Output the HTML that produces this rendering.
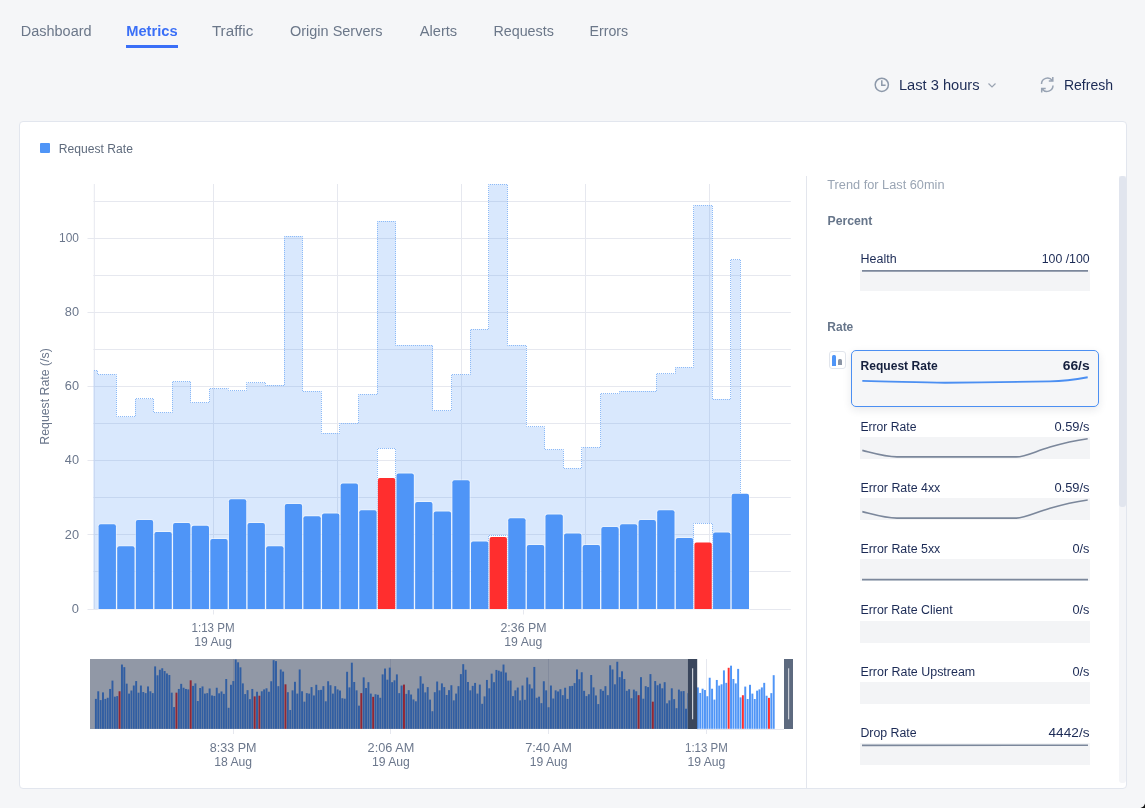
<!DOCTYPE html>
<html><head><meta charset="utf-8"><style>
*{margin:0;padding:0;box-sizing:border-box}
html,body{width:1145px;height:808px;overflow:hidden;background:#f5f6f8;font-family:"Liberation Sans", sans-serif;}
.uline{position:absolute;left:126.2px;top:45.3px;width:51.4px;height:2.5px;background:#3a6ff7}
.card{position:absolute;left:19px;top:121px;width:1108px;height:668px;background:#fff;border:1px solid #e2e6ee;border-radius:4px}
svg{position:absolute;left:0;top:0;font-family:"Liberation Sans", sans-serif;will-change:transform}
.gbox{position:absolute;left:860px;width:230px;height:22px;background:#f3f4f6}
.L{position:absolute;left:0;top:0;width:1145px;height:808px}
</style></head><body>
<div class="uline"></div>
<svg width="1145" height="808" style="z-index:1">
<text x="20.8" y="36.05" font-size="14" fill="#6b7789" font-weight="normal" textLength="70.8" lengthAdjust="spacingAndGlyphs">Dashboard</text>
<text x="126.2" y="36.05" font-size="14" fill="#3a6ff7" font-weight="bold" textLength="51.4" lengthAdjust="spacingAndGlyphs">Metrics</text>
<text x="211.9" y="36.05" font-size="14" fill="#6b7789" font-weight="normal" textLength="41.4" lengthAdjust="spacingAndGlyphs">Traffic</text>
<text x="290" y="36.05" font-size="14" fill="#6b7789" font-weight="normal" textLength="92.5" lengthAdjust="spacingAndGlyphs">Origin Servers</text>
<text x="419.7" y="36.05" font-size="14" fill="#6b7789" font-weight="normal" textLength="37.5" lengthAdjust="spacingAndGlyphs">Alerts</text>
<text x="493.4" y="36.05" font-size="14" fill="#6b7789" font-weight="normal" textLength="60.5" lengthAdjust="spacingAndGlyphs">Requests</text>
<text x="589.5" y="36.05" font-size="14" fill="#6b7789" font-weight="normal" textLength="38.7" lengthAdjust="spacingAndGlyphs">Errors</text>
<text x="898.9" y="90.1" font-size="14" fill="#1c2b55" font-weight="normal" textLength="80.7" lengthAdjust="spacingAndGlyphs">Last 3 hours</text>
<text x="1063.9" y="89.9" font-size="14" fill="#1c2b55" font-weight="normal" textLength="49.2" lengthAdjust="spacingAndGlyphs">Refresh</text>
<circle cx="881.8" cy="84.8" r="6.6" fill="none" stroke="#8d99aa" stroke-width="1.5"/>
<path d="M881.8,80.2 L881.8,85.3 L885.6,85.3" fill="none" stroke="#8d99aa" stroke-width="1.5"/>
<path d="M988.5,83.5 L992,87 L995.5,83.5" fill="none" stroke="#9aa4b2" stroke-width="1.2"/>
<path d="M1041.5,84 A6,6 0 0 1 1052.3,80.5 M1052.8,77 L1052.8,81 L1048.8,81 M1053,85.5 A6,6 0 0 1 1042.2,89 M1041.7,92.5 L1041.7,88.5 L1045.7,88.5" fill="none" stroke="#98a3b3" stroke-width="1.5"/>
</svg>
<div class="card"></div>
<svg width="1145" height="808" style="z-index:2">
<defs><pattern id="dots" width="2" height="2" patternUnits="userSpaceOnUse"><rect x="0" y="0" width="1" height="1" fill="#8cbaf7"/><rect x="1" y="1" width="1" height="1" fill="#8cbaf7"/></pattern></defs>
<line x1="806.5" y1="176" x2="806.5" y2="788" stroke="#e3e6ed" stroke-width="1"/>
<line x1="87.5" y1="609.5" x2="790.8" y2="609.5" stroke="#e6e8ef" stroke-width="1"/>
<line x1="93.4" y1="571.5" x2="790.8" y2="571.5" stroke="#e6e8ef" stroke-width="1"/>
<line x1="87.5" y1="534.5" x2="790.8" y2="534.5" stroke="#e6e8ef" stroke-width="1"/>
<line x1="93.4" y1="497.5" x2="790.8" y2="497.5" stroke="#e6e8ef" stroke-width="1"/>
<line x1="87.5" y1="460.5" x2="790.8" y2="460.5" stroke="#e6e8ef" stroke-width="1"/>
<line x1="93.4" y1="423.5" x2="790.8" y2="423.5" stroke="#e6e8ef" stroke-width="1"/>
<line x1="87.5" y1="386.5" x2="790.8" y2="386.5" stroke="#e6e8ef" stroke-width="1"/>
<line x1="93.4" y1="349.5" x2="790.8" y2="349.5" stroke="#e6e8ef" stroke-width="1"/>
<line x1="87.5" y1="312.5" x2="790.8" y2="312.5" stroke="#e6e8ef" stroke-width="1"/>
<line x1="93.4" y1="275.5" x2="790.8" y2="275.5" stroke="#e6e8ef" stroke-width="1"/>
<line x1="87.5" y1="238.5" x2="790.8" y2="238.5" stroke="#e6e8ef" stroke-width="1"/>
<line x1="93.4" y1="201.5" x2="790.8" y2="201.5" stroke="#e6e8ef" stroke-width="1"/>
<line x1="94.3" y1="184" x2="94.3" y2="609" stroke="#e6e8ef" stroke-width="1"/>
<line x1="213.5" y1="184" x2="213.5" y2="609" stroke="#e6e8ef" stroke-width="1"/>
<line x1="337.5" y1="184" x2="337.5" y2="609" stroke="#e6e8ef" stroke-width="1"/>
<line x1="461.5" y1="184" x2="461.5" y2="609" stroke="#e6e8ef" stroke-width="1"/>
<line x1="585.5" y1="184" x2="585.5" y2="609" stroke="#e6e8ef" stroke-width="1"/>
<line x1="709.5" y1="184" x2="709.5" y2="609" stroke="#e6e8ef" stroke-width="1"/>
<line x1="213.5" y1="609" x2="213.5" y2="614.5" stroke="#e6e8ef" stroke-width="1"/>
<line x1="523.5" y1="609" x2="523.5" y2="614.5" stroke="#e6e8ef" stroke-width="1"/>
<path d="M93.4,609 L93.4,370.5 L97.8,370.5 L97.8,374.3 L116.42,374.3 L116.42,416.8 L135.04,416.8 L135.04,398.9 L153.66,398.9 L153.66,412.6 L172.28,412.6 L172.28,381.4 L190.9,381.4 L190.9,402.5 L209.52,402.5 L209.52,388.6 L228.14,388.6 L228.14,390.7 L246.76,390.7 L246.76,382.7 L265.38,382.7 L265.38,385 L284,385 L284,236.1 L302.62,236.1 L302.62,391.2 L321.24,391.2 L321.24,433.1 L339.86,433.1 L339.86,423.2 L358.48,423.2 L358.48,394.2 L377.1,394.2 L377.1,221 L395.72,221 L395.72,345.1 L414.34,345.1 L414.34,345.1 L432.96,345.1 L432.96,410.4 L451.58,410.4 L451.58,374.6 L470.2,374.6 L470.2,329.3 L488.82,329.3 L488.82,184.2 L507.44,184.2 L507.44,345.1 L526.06,345.1 L526.06,426.8 L544.68,426.8 L544.68,449.5 L563.3,449.5 L563.3,468.2 L581.92,468.2 L581.92,447.2 L600.54,447.2 L600.54,393.7 L619.16,393.7 L619.16,391 L637.78,391 L637.78,391 L656.4,391 L656.4,373.8 L675.02,373.8 L675.02,367.2 L693.64,367.2 L693.64,205.2 L712.26,205.2 L712.26,399 L730.88,399 L730.88,259.7 L740.3,259.7 L740.3,609 Z M377.1,448.6 L395.72,448.6 L395.72,480.9 L377.1,480.9 Z M488.82,535.3 L507.44,535.3 L507.44,539.9 L488.82,539.9 Z M693.64,523.2 L712.26,523.2 L712.26,545.5 L693.64,545.5 Z" fill="rgba(77,148,246,0.21)" fill-rule="evenodd" stroke="none"/>
<path d="M93.5,370.5 L97.5,370.5 L97.5,374.5 L116.5,374.5 L116.5,416.5 L135.5,416.5 L135.5,398.5 L153.5,398.5 L153.5,412.5 L172.5,412.5 L172.5,381.5 L190.5,381.5 L190.5,402.5 L209.5,402.5 L209.5,388.5 L228.5,388.5 L228.5,390.5 L246.5,390.5 L246.5,382.5 L265.5,382.5 L265.5,385.5 L284.5,385.5 L284.5,236.5 L302.5,236.5 L302.5,391.5 L321.5,391.5 L321.5,433.5 L339.5,433.5 L339.5,423.5 L358.5,423.5 L358.5,394.5 L377.5,394.5 L377.5,221.5 L395.5,221.5 L395.5,345.5 L414.5,345.5 L414.5,345.5 L432.5,345.5 L432.5,410.5 L451.5,410.5 L451.5,374.5 L470.5,374.5 L470.5,329.5 L488.5,329.5 L488.5,184.5 L507.5,184.5 L507.5,345.5 L526.5,345.5 L526.5,426.5 L544.5,426.5 L544.5,449.5 L563.5,449.5 L563.5,468.5 L581.5,468.5 L581.5,447.5 L600.5,447.5 L600.5,393.5 L619.5,393.5 L619.5,391.5 L637.5,391.5 L637.5,391.5 L656.5,391.5 L656.5,373.5 L675.5,373.5 L675.5,367.5 L693.5,367.5 L693.5,205.5 L712.5,205.5 L712.5,399.5 L730.5,399.5 L730.5,259.5 L740.5,259.5 L740.5,609.5" fill="none" stroke="url(#dots)" stroke-width="1"/>
<path d="M377.5,609 L377.5,448.5 L395.5,448.5 L395.5,609" fill="none" stroke="url(#dots)" stroke-width="1"/>
<path d="M488.5,609 L488.5,535.5 L507.5,535.5 L507.5,609" fill="none" stroke="url(#dots)" stroke-width="1"/>
<path d="M693.5,609 L693.5,523.5 L712.5,523.5 L712.5,609" fill="none" stroke="url(#dots)" stroke-width="1"/>
<path d="M98.6,609 L98.6,526.3 Q98.6,524.3 100.6,524.3 L113.92,524.3 Q115.92,524.3 115.92,526.3 L115.92,609 Z" fill="none" stroke="rgba(255,255,255,0.45)" stroke-width="1.8"/>
<path d="M98.6,609 L98.6,526.3 Q98.6,524.3 100.6,524.3 L113.92,524.3 Q115.92,524.3 115.92,526.3 L115.92,609 Z" fill="#4f95f7"/>
<path d="M117.22,609 L117.22,548.3 Q117.22,546.3 119.22,546.3 L132.54,546.3 Q134.54,546.3 134.54,548.3 L134.54,609 Z" fill="none" stroke="rgba(255,255,255,0.45)" stroke-width="1.8"/>
<path d="M117.22,609 L117.22,548.3 Q117.22,546.3 119.22,546.3 L132.54,546.3 Q134.54,546.3 134.54,548.3 L134.54,609 Z" fill="#4f95f7"/>
<path d="M135.84,609 L135.84,522.1 Q135.84,520.1 137.84,520.1 L151.16,520.1 Q153.16,520.1 153.16,522.1 L153.16,609 Z" fill="none" stroke="rgba(255,255,255,0.45)" stroke-width="1.8"/>
<path d="M135.84,609 L135.84,522.1 Q135.84,520.1 137.84,520.1 L151.16,520.1 Q153.16,520.1 153.16,522.1 L153.16,609 Z" fill="#4f95f7"/>
<path d="M154.46,609 L154.46,534 Q154.46,532 156.46,532 L169.78,532 Q171.78,532 171.78,534 L171.78,609 Z" fill="none" stroke="rgba(255,255,255,0.45)" stroke-width="1.8"/>
<path d="M154.46,609 L154.46,534 Q154.46,532 156.46,532 L169.78,532 Q171.78,532 171.78,534 L171.78,609 Z" fill="#4f95f7"/>
<path d="M173.08,609 L173.08,524.9 Q173.08,522.9 175.08,522.9 L188.4,522.9 Q190.4,522.9 190.4,524.9 L190.4,609 Z" fill="none" stroke="rgba(255,255,255,0.45)" stroke-width="1.8"/>
<path d="M173.08,609 L173.08,524.9 Q173.08,522.9 175.08,522.9 L188.4,522.9 Q190.4,522.9 190.4,524.9 L190.4,609 Z" fill="#4f95f7"/>
<path d="M191.7,609 L191.7,527.7 Q191.7,525.7 193.7,525.7 L207.02,525.7 Q209.02,525.7 209.02,527.7 L209.02,609 Z" fill="none" stroke="rgba(255,255,255,0.45)" stroke-width="1.8"/>
<path d="M191.7,609 L191.7,527.7 Q191.7,525.7 193.7,525.7 L207.02,525.7 Q209.02,525.7 209.02,527.7 L209.02,609 Z" fill="#4f95f7"/>
<path d="M210.32,609 L210.32,541 Q210.32,539 212.32,539 L225.64,539 Q227.64,539 227.64,541 L227.64,609 Z" fill="none" stroke="rgba(255,255,255,0.45)" stroke-width="1.8"/>
<path d="M210.32,609 L210.32,541 Q210.32,539 212.32,539 L225.64,539 Q227.64,539 227.64,541 L227.64,609 Z" fill="#4f95f7"/>
<path d="M228.94,609 L228.94,501.3 Q228.94,499.3 230.94,499.3 L244.26,499.3 Q246.26,499.3 246.26,501.3 L246.26,609 Z" fill="none" stroke="rgba(255,255,255,0.45)" stroke-width="1.8"/>
<path d="M228.94,609 L228.94,501.3 Q228.94,499.3 230.94,499.3 L244.26,499.3 Q246.26,499.3 246.26,501.3 L246.26,609 Z" fill="#4f95f7"/>
<path d="M247.56,609 L247.56,524.9 Q247.56,522.9 249.56,522.9 L262.88,522.9 Q264.88,522.9 264.88,524.9 L264.88,609 Z" fill="none" stroke="rgba(255,255,255,0.45)" stroke-width="1.8"/>
<path d="M247.56,609 L247.56,524.9 Q247.56,522.9 249.56,522.9 L262.88,522.9 Q264.88,522.9 264.88,524.9 L264.88,609 Z" fill="#4f95f7"/>
<path d="M266.18,609 L266.18,548.3 Q266.18,546.3 268.18,546.3 L281.5,546.3 Q283.5,546.3 283.5,548.3 L283.5,609 Z" fill="none" stroke="rgba(255,255,255,0.45)" stroke-width="1.8"/>
<path d="M266.18,609 L266.18,548.3 Q266.18,546.3 268.18,546.3 L281.5,546.3 Q283.5,546.3 283.5,548.3 L283.5,609 Z" fill="#4f95f7"/>
<path d="M284.8,609 L284.8,506.1 Q284.8,504.1 286.8,504.1 L300.12,504.1 Q302.12,504.1 302.12,506.1 L302.12,609 Z" fill="none" stroke="rgba(255,255,255,0.45)" stroke-width="1.8"/>
<path d="M284.8,609 L284.8,506.1 Q284.8,504.1 286.8,504.1 L300.12,504.1 Q302.12,504.1 302.12,506.1 L302.12,609 Z" fill="#4f95f7"/>
<path d="M303.42,609 L303.42,518.2 Q303.42,516.2 305.42,516.2 L318.74,516.2 Q320.74,516.2 320.74,518.2 L320.74,609 Z" fill="none" stroke="rgba(255,255,255,0.45)" stroke-width="1.8"/>
<path d="M303.42,609 L303.42,518.2 Q303.42,516.2 305.42,516.2 L318.74,516.2 Q320.74,516.2 320.74,518.2 L320.74,609 Z" fill="#4f95f7"/>
<path d="M322.04,609 L322.04,515.4 Q322.04,513.4 324.04,513.4 L337.36,513.4 Q339.36,513.4 339.36,515.4 L339.36,609 Z" fill="none" stroke="rgba(255,255,255,0.45)" stroke-width="1.8"/>
<path d="M322.04,609 L322.04,515.4 Q322.04,513.4 324.04,513.4 L337.36,513.4 Q339.36,513.4 339.36,515.4 L339.36,609 Z" fill="#4f95f7"/>
<path d="M340.66,609 L340.66,485.5 Q340.66,483.5 342.66,483.5 L355.98,483.5 Q357.98,483.5 357.98,485.5 L357.98,609 Z" fill="none" stroke="rgba(255,255,255,0.45)" stroke-width="1.8"/>
<path d="M340.66,609 L340.66,485.5 Q340.66,483.5 342.66,483.5 L355.98,483.5 Q357.98,483.5 357.98,485.5 L357.98,609 Z" fill="#4f95f7"/>
<path d="M359.28,609 L359.28,512.3 Q359.28,510.3 361.28,510.3 L374.6,510.3 Q376.6,510.3 376.6,512.3 L376.6,609 Z" fill="none" stroke="rgba(255,255,255,0.45)" stroke-width="1.8"/>
<path d="M359.28,609 L359.28,512.3 Q359.28,510.3 361.28,510.3 L374.6,510.3 Q376.6,510.3 376.6,512.3 L376.6,609 Z" fill="#4f95f7"/>
<path d="M377.9,609 L377.9,479.9 Q377.9,477.9 379.9,477.9 L393.22,477.9 Q395.22,477.9 395.22,479.9 L395.22,609 Z" fill="none" stroke="rgba(255,255,255,0.45)" stroke-width="1.8"/>
<path d="M377.9,609 L377.9,479.9 Q377.9,477.9 379.9,477.9 L393.22,477.9 Q395.22,477.9 395.22,479.9 L395.22,609 Z" fill="#ff2e2e"/>
<path d="M396.52,609 L396.52,475.4 Q396.52,473.4 398.52,473.4 L411.84,473.4 Q413.84,473.4 413.84,475.4 L413.84,609 Z" fill="none" stroke="rgba(255,255,255,0.45)" stroke-width="1.8"/>
<path d="M396.52,609 L396.52,475.4 Q396.52,473.4 398.52,473.4 L411.84,473.4 Q413.84,473.4 413.84,475.4 L413.84,609 Z" fill="#4f95f7"/>
<path d="M415.14,609 L415.14,504 Q415.14,502 417.14,502 L430.46,502 Q432.46,502 432.46,504 L432.46,609 Z" fill="none" stroke="rgba(255,255,255,0.45)" stroke-width="1.8"/>
<path d="M415.14,609 L415.14,504 Q415.14,502 417.14,502 L430.46,502 Q432.46,502 432.46,504 L432.46,609 Z" fill="#4f95f7"/>
<path d="M433.76,609 L433.76,513.5 Q433.76,511.5 435.76,511.5 L449.08,511.5 Q451.08,511.5 451.08,513.5 L451.08,609 Z" fill="none" stroke="rgba(255,255,255,0.45)" stroke-width="1.8"/>
<path d="M433.76,609 L433.76,513.5 Q433.76,511.5 435.76,511.5 L449.08,511.5 Q451.08,511.5 451.08,513.5 L451.08,609 Z" fill="#4f95f7"/>
<path d="M452.38,609 L452.38,482.3 Q452.38,480.3 454.38,480.3 L467.7,480.3 Q469.7,480.3 469.7,482.3 L469.7,609 Z" fill="none" stroke="rgba(255,255,255,0.45)" stroke-width="1.8"/>
<path d="M452.38,609 L452.38,482.3 Q452.38,480.3 454.38,480.3 L467.7,480.3 Q469.7,480.3 469.7,482.3 L469.7,609 Z" fill="#4f95f7"/>
<path d="M471,609 L471,543.5 Q471,541.5 473,541.5 L486.32,541.5 Q488.32,541.5 488.32,543.5 L488.32,609 Z" fill="none" stroke="rgba(255,255,255,0.45)" stroke-width="1.8"/>
<path d="M471,609 L471,543.5 Q471,541.5 473,541.5 L486.32,541.5 Q488.32,541.5 488.32,543.5 L488.32,609 Z" fill="#4f95f7"/>
<path d="M489.62,609 L489.62,538.9 Q489.62,536.9 491.62,536.9 L504.94,536.9 Q506.94,536.9 506.94,538.9 L506.94,609 Z" fill="none" stroke="rgba(255,255,255,0.45)" stroke-width="1.8"/>
<path d="M489.62,609 L489.62,538.9 Q489.62,536.9 491.62,536.9 L504.94,536.9 Q506.94,536.9 506.94,538.9 L506.94,609 Z" fill="#ff2e2e"/>
<path d="M508.24,609 L508.24,520.3 Q508.24,518.3 510.24,518.3 L523.56,518.3 Q525.56,518.3 525.56,520.3 L525.56,609 Z" fill="none" stroke="rgba(255,255,255,0.45)" stroke-width="1.8"/>
<path d="M508.24,609 L508.24,520.3 Q508.24,518.3 510.24,518.3 L523.56,518.3 Q525.56,518.3 525.56,520.3 L525.56,609 Z" fill="#4f95f7"/>
<path d="M526.86,609 L526.86,547 Q526.86,545 528.86,545 L542.18,545 Q544.18,545 544.18,547 L544.18,609 Z" fill="none" stroke="rgba(255,255,255,0.45)" stroke-width="1.8"/>
<path d="M526.86,609 L526.86,547 Q526.86,545 528.86,545 L542.18,545 Q544.18,545 544.18,547 L544.18,609 Z" fill="#4f95f7"/>
<path d="M545.48,609 L545.48,516.5 Q545.48,514.5 547.48,514.5 L560.8,514.5 Q562.8,514.5 562.8,516.5 L562.8,609 Z" fill="none" stroke="rgba(255,255,255,0.45)" stroke-width="1.8"/>
<path d="M545.48,609 L545.48,516.5 Q545.48,514.5 547.48,514.5 L560.8,514.5 Q562.8,514.5 562.8,516.5 L562.8,609 Z" fill="#4f95f7"/>
<path d="M564.1,609 L564.1,535.4 Q564.1,533.4 566.1,533.4 L579.42,533.4 Q581.42,533.4 581.42,535.4 L581.42,609 Z" fill="none" stroke="rgba(255,255,255,0.45)" stroke-width="1.8"/>
<path d="M564.1,609 L564.1,535.4 Q564.1,533.4 566.1,533.4 L579.42,533.4 Q581.42,533.4 581.42,535.4 L581.42,609 Z" fill="#4f95f7"/>
<path d="M582.72,609 L582.72,547 Q582.72,545 584.72,545 L598.04,545 Q600.04,545 600.04,547 L600.04,609 Z" fill="none" stroke="rgba(255,255,255,0.45)" stroke-width="1.8"/>
<path d="M582.72,609 L582.72,547 Q582.72,545 584.72,545 L598.04,545 Q600.04,545 600.04,547 L600.04,609 Z" fill="#4f95f7"/>
<path d="M601.34,609 L601.34,529.1 Q601.34,527.1 603.34,527.1 L616.66,527.1 Q618.66,527.1 618.66,529.1 L618.66,609 Z" fill="none" stroke="rgba(255,255,255,0.45)" stroke-width="1.8"/>
<path d="M601.34,609 L601.34,529.1 Q601.34,527.1 603.34,527.1 L616.66,527.1 Q618.66,527.1 618.66,529.1 L618.66,609 Z" fill="#4f95f7"/>
<path d="M619.96,609 L619.96,526.3 Q619.96,524.3 621.96,524.3 L635.28,524.3 Q637.28,524.3 637.28,526.3 L637.28,609 Z" fill="none" stroke="rgba(255,255,255,0.45)" stroke-width="1.8"/>
<path d="M619.96,609 L619.96,526.3 Q619.96,524.3 621.96,524.3 L635.28,524.3 Q637.28,524.3 637.28,526.3 L637.28,609 Z" fill="#4f95f7"/>
<path d="M638.58,609 L638.58,522.1 Q638.58,520.1 640.58,520.1 L653.9,520.1 Q655.9,520.1 655.9,522.1 L655.9,609 Z" fill="none" stroke="rgba(255,255,255,0.45)" stroke-width="1.8"/>
<path d="M638.58,609 L638.58,522.1 Q638.58,520.1 640.58,520.1 L653.9,520.1 Q655.9,520.1 655.9,522.1 L655.9,609 Z" fill="#4f95f7"/>
<path d="M657.2,609 L657.2,512.3 Q657.2,510.3 659.2,510.3 L672.52,510.3 Q674.52,510.3 674.52,512.3 L674.52,609 Z" fill="none" stroke="rgba(255,255,255,0.45)" stroke-width="1.8"/>
<path d="M657.2,609 L657.2,512.3 Q657.2,510.3 659.2,510.3 L672.52,510.3 Q674.52,510.3 674.52,512.3 L674.52,609 Z" fill="#4f95f7"/>
<path d="M675.82,609 L675.82,540 Q675.82,538 677.82,538 L691.14,538 Q693.14,538 693.14,540 L693.14,609 Z" fill="none" stroke="rgba(255,255,255,0.45)" stroke-width="1.8"/>
<path d="M675.82,609 L675.82,540 Q675.82,538 677.82,538 L691.14,538 Q693.14,538 693.14,540 L693.14,609 Z" fill="#4f95f7"/>
<path d="M694.44,609 L694.44,544.5 Q694.44,542.5 696.44,542.5 L709.76,542.5 Q711.76,542.5 711.76,544.5 L711.76,609 Z" fill="none" stroke="rgba(255,255,255,0.45)" stroke-width="1.8"/>
<path d="M694.44,609 L694.44,544.5 Q694.44,542.5 696.44,542.5 L709.76,542.5 Q711.76,542.5 711.76,544.5 L711.76,609 Z" fill="#ff2e2e"/>
<path d="M713.06,609 L713.06,534.4 Q713.06,532.4 715.06,532.4 L728.38,532.4 Q730.38,532.4 730.38,534.4 L730.38,609 Z" fill="none" stroke="rgba(255,255,255,0.45)" stroke-width="1.8"/>
<path d="M713.06,609 L713.06,534.4 Q713.06,532.4 715.06,532.4 L728.38,532.4 Q730.38,532.4 730.38,534.4 L730.38,609 Z" fill="#4f95f7"/>
<path d="M731.68,609 L731.68,495.8 Q731.68,493.8 733.68,493.8 L747,493.8 Q749,493.8 749,495.8 L749,609 Z" fill="none" stroke="rgba(255,255,255,0.45)" stroke-width="1.8"/>
<path d="M731.68,609 L731.68,495.8 Q731.68,493.8 733.68,493.8 L747,493.8 Q749,493.8 749,495.8 L749,609 Z" fill="#4f95f7"/>
<text x="71.8" y="612.7" text-anchor="start" font-size="12" fill="#6b778c" font-weight="normal" textLength="7.2" lengthAdjust="spacingAndGlyphs" >0</text>
<text x="64.8" y="538.54" text-anchor="start" font-size="12" fill="#6b778c" font-weight="normal" textLength="14.2" lengthAdjust="spacingAndGlyphs" >20</text>
<text x="64.8" y="464.38" text-anchor="start" font-size="12" fill="#6b778c" font-weight="normal" textLength="14.2" lengthAdjust="spacingAndGlyphs" >40</text>
<text x="64.8" y="390.22" text-anchor="start" font-size="12" fill="#6b778c" font-weight="normal" textLength="14.2" lengthAdjust="spacingAndGlyphs" >60</text>
<text x="64.8" y="316.06" text-anchor="start" font-size="12" fill="#6b778c" font-weight="normal" textLength="14.2" lengthAdjust="spacingAndGlyphs" >80</text>
<text x="59.1" y="241.9" text-anchor="start" font-size="12" fill="#6b778c" font-weight="normal" textLength="19.9" lengthAdjust="spacingAndGlyphs" >100</text>
<text x="48.6" y="444.7" text-anchor="start" font-size="12" fill="#6b778c" font-weight="normal" textLength="96.5" lengthAdjust="spacingAndGlyphs" transform="rotate(-90 48.6 444.7)">Request Rate (/s)</text>
<text x="191.5" y="631.9" text-anchor="start" font-size="12" fill="#6b778c" font-weight="normal" textLength="43.1" lengthAdjust="spacingAndGlyphs" >1:13 PM</text>
<text x="194.2" y="645.9" text-anchor="start" font-size="12" fill="#6b778c" font-weight="normal" textLength="37.8" lengthAdjust="spacingAndGlyphs" >19 Aug</text>
<text x="500.5" y="631.9" text-anchor="start" font-size="12" fill="#6b778c" font-weight="normal" textLength="46" lengthAdjust="spacingAndGlyphs" >2:36 PM</text>
<text x="504.3" y="645.9" text-anchor="start" font-size="12" fill="#6b778c" font-weight="normal" textLength="38.1" lengthAdjust="spacingAndGlyphs" >19 Aug</text>
<rect x="90" y="659" width="703" height="70" fill="#fff"/>
<line x1="233.5" y1="659" x2="233.5" y2="729" stroke="#e6e8ef" stroke-width="1"/>
<line x1="390.5" y1="659" x2="390.5" y2="729" stroke="#e6e8ef" stroke-width="1"/>
<line x1="548.5" y1="659" x2="548.5" y2="729" stroke="#e6e8ef" stroke-width="1"/>
<line x1="706.5" y1="659" x2="706.5" y2="729" stroke="#e6e8ef" stroke-width="1"/>
<rect x="94.9" y="698.88" width="1.95" height="29.92" fill="#4f95f7"/>
<rect x="97.27" y="691.27" width="1.95" height="37.53" fill="#4f95f7"/>
<rect x="99.64" y="700.08" width="1.95" height="28.72" fill="#4f95f7"/>
<rect x="102.01" y="692.38" width="1.95" height="36.42" fill="#4f95f7"/>
<rect x="104.38" y="698.88" width="1.95" height="29.92" fill="#4f95f7"/>
<rect x="106.75" y="697.76" width="1.95" height="31.04" fill="#4f95f7"/>
<rect x="109.12" y="688.95" width="1.95" height="39.85" fill="#4f95f7"/>
<rect x="111.49" y="680.59" width="1.95" height="48.21" fill="#4f95f7"/>
<rect x="113.86" y="696.65" width="1.95" height="32.15" fill="#4f95f7"/>
<rect x="116.23" y="696.09" width="1.95" height="32.71" fill="#4f95f7"/>
<rect x="118.6" y="691.27" width="1.95" height="37.53" fill="#ff2e2e"/>
<rect x="120.97" y="664.54" width="1.95" height="64.26" fill="#4f95f7"/>
<rect x="123.34" y="667.14" width="1.95" height="61.66" fill="#4f95f7"/>
<rect x="125.71" y="683.66" width="1.95" height="45.14" fill="#4f95f7"/>
<rect x="128.08" y="693.59" width="1.95" height="35.21" fill="#4f95f7"/>
<rect x="130.45" y="690.52" width="1.95" height="38.28" fill="#4f95f7"/>
<rect x="132.82" y="685.51" width="1.95" height="43.29" fill="#4f95f7"/>
<rect x="135.19" y="681.06" width="1.95" height="47.74" fill="#4f95f7"/>
<rect x="137.56" y="692.66" width="1.95" height="36.14" fill="#4f95f7"/>
<rect x="139.93" y="685.51" width="1.95" height="43.29" fill="#4f95f7"/>
<rect x="142.3" y="692.01" width="1.95" height="36.79" fill="#4f95f7"/>
<rect x="144.67" y="693.12" width="1.95" height="35.68" fill="#4f95f7"/>
<rect x="147.04" y="686.44" width="1.95" height="42.36" fill="#4f95f7"/>
<rect x="149.41" y="691.27" width="1.95" height="37.53" fill="#4f95f7"/>
<rect x="151.78" y="693.12" width="1.95" height="35.68" fill="#4f95f7"/>
<rect x="154.15" y="666.39" width="1.95" height="62.41" fill="#4f95f7"/>
<rect x="156.52" y="675.3" width="1.95" height="53.5" fill="#4f95f7"/>
<rect x="158.89" y="669.74" width="1.95" height="59.06" fill="#4f95f7"/>
<rect x="161.26" y="668.25" width="1.95" height="60.55" fill="#4f95f7"/>
<rect x="163.63" y="671.03" width="1.95" height="57.77" fill="#4f95f7"/>
<rect x="166" y="673.45" width="1.95" height="55.35" fill="#4f95f7"/>
<rect x="168.37" y="675.03" width="1.95" height="53.77" fill="#4f95f7"/>
<rect x="170.74" y="692.66" width="1.95" height="36.14" fill="#4f95f7"/>
<rect x="173.11" y="707.04" width="1.95" height="21.76" fill="#4f95f7"/>
<rect x="175.48" y="692.66" width="1.95" height="36.14" fill="#ff2e2e"/>
<rect x="177.85" y="688.95" width="1.95" height="39.85" fill="#4f95f7"/>
<rect x="180.22" y="683.84" width="1.95" height="44.96" fill="#4f95f7"/>
<rect x="182.59" y="687.74" width="1.95" height="41.06" fill="#4f95f7"/>
<rect x="184.96" y="688.95" width="1.95" height="39.85" fill="#4f95f7"/>
<rect x="187.33" y="689.41" width="1.95" height="39.39" fill="#4f95f7"/>
<rect x="189.7" y="680.32" width="1.95" height="48.48" fill="#ff2e2e"/>
<rect x="192.07" y="685.88" width="1.95" height="42.92" fill="#4f95f7"/>
<rect x="194.44" y="683.38" width="1.95" height="45.42" fill="#4f95f7"/>
<rect x="196.81" y="701.01" width="1.95" height="27.79" fill="#4f95f7"/>
<rect x="199.18" y="688.02" width="1.95" height="40.78" fill="#4f95f7"/>
<rect x="201.55" y="686.44" width="1.95" height="42.36" fill="#4f95f7"/>
<rect x="203.92" y="693.59" width="1.95" height="35.21" fill="#4f95f7"/>
<rect x="206.29" y="693.12" width="1.95" height="35.68" fill="#4f95f7"/>
<rect x="208.66" y="688.48" width="1.95" height="40.32" fill="#4f95f7"/>
<rect x="211.03" y="695.44" width="1.95" height="33.36" fill="#4f95f7"/>
<rect x="213.4" y="695.91" width="1.95" height="32.89" fill="#4f95f7"/>
<rect x="215.77" y="687.74" width="1.95" height="41.06" fill="#4f95f7"/>
<rect x="218.14" y="693.31" width="1.95" height="35.49" fill="#4f95f7"/>
<rect x="220.51" y="691.45" width="1.95" height="37.35" fill="#4f95f7"/>
<rect x="222.88" y="693.87" width="1.95" height="34.93" fill="#4f95f7"/>
<rect x="225.25" y="679.02" width="1.95" height="49.78" fill="#4f95f7"/>
<rect x="227.62" y="707.79" width="1.95" height="21.01" fill="#4f95f7"/>
<rect x="229.99" y="684.77" width="1.95" height="44.03" fill="#4f95f7"/>
<rect x="232.36" y="681.06" width="1.95" height="47.74" fill="#4f95f7"/>
<rect x="234.73" y="659.53" width="1.95" height="69.27" fill="#4f95f7"/>
<rect x="237.1" y="662.31" width="1.95" height="66.49" fill="#4f95f7"/>
<rect x="239.47" y="667.32" width="1.95" height="61.48" fill="#4f95f7"/>
<rect x="241.84" y="683.38" width="1.95" height="45.42" fill="#4f95f7"/>
<rect x="244.21" y="694.05" width="1.95" height="34.75" fill="#4f95f7"/>
<rect x="246.58" y="690.15" width="1.95" height="38.65" fill="#4f95f7"/>
<rect x="248.95" y="699.16" width="1.95" height="29.64" fill="#4f95f7"/>
<rect x="251.32" y="688.95" width="1.95" height="39.85" fill="#4f95f7"/>
<rect x="253.69" y="696.37" width="1.95" height="32.43" fill="#ff2e2e"/>
<rect x="256.06" y="691.73" width="1.95" height="37.07" fill="#4f95f7"/>
<rect x="258.43" y="695.72" width="1.95" height="33.08" fill="#ff2e2e"/>
<rect x="260.8" y="691.27" width="1.95" height="37.53" fill="#4f95f7"/>
<rect x="263.17" y="689.41" width="1.95" height="39.39" fill="#4f95f7"/>
<rect x="265.54" y="688.3" width="1.95" height="40.5" fill="#4f95f7"/>
<rect x="267.91" y="691.73" width="1.95" height="37.07" fill="#4f95f7"/>
<rect x="270.28" y="681.24" width="1.95" height="47.56" fill="#4f95f7"/>
<rect x="272.65" y="660.18" width="1.95" height="68.62" fill="#4f95f7"/>
<rect x="275.02" y="661.1" width="1.95" height="67.7" fill="#4f95f7"/>
<rect x="277.39" y="686.16" width="1.95" height="42.64" fill="#4f95f7"/>
<rect x="279.76" y="669.46" width="1.95" height="59.34" fill="#4f95f7"/>
<rect x="282.13" y="671.59" width="1.95" height="57.21" fill="#4f95f7"/>
<rect x="284.5" y="684.31" width="1.95" height="44.49" fill="#ff2e2e"/>
<rect x="286.87" y="692.19" width="1.95" height="36.61" fill="#4f95f7"/>
<rect x="289.24" y="710.01" width="1.95" height="18.79" fill="#4f95f7"/>
<rect x="291.61" y="690.34" width="1.95" height="38.46" fill="#4f95f7"/>
<rect x="293.98" y="681.8" width="1.95" height="47" fill="#4f95f7"/>
<rect x="296.35" y="693.59" width="1.95" height="35.21" fill="#4f95f7"/>
<rect x="298.72" y="669.46" width="1.95" height="59.34" fill="#4f95f7"/>
<rect x="301.09" y="691.27" width="1.95" height="37.53" fill="#4f95f7"/>
<rect x="303.46" y="701.66" width="1.95" height="27.14" fill="#4f95f7"/>
<rect x="305.83" y="693.12" width="1.95" height="35.68" fill="#4f95f7"/>
<rect x="308.2" y="693.59" width="1.95" height="35.21" fill="#4f95f7"/>
<rect x="310.57" y="687.09" width="1.95" height="41.71" fill="#4f95f7"/>
<rect x="312.94" y="695.44" width="1.95" height="33.36" fill="#4f95f7"/>
<rect x="315.31" y="684.77" width="1.95" height="44.03" fill="#4f95f7"/>
<rect x="317.68" y="690.15" width="1.95" height="38.65" fill="#4f95f7"/>
<rect x="320.05" y="689.87" width="1.95" height="38.93" fill="#4f95f7"/>
<rect x="322.42" y="686.16" width="1.95" height="42.64" fill="#4f95f7"/>
<rect x="324.79" y="701.29" width="1.95" height="27.51" fill="#4f95f7"/>
<rect x="327.16" y="681.24" width="1.95" height="47.56" fill="#4f95f7"/>
<rect x="329.53" y="685.23" width="1.95" height="43.57" fill="#4f95f7"/>
<rect x="331.9" y="693.59" width="1.95" height="35.21" fill="#4f95f7"/>
<rect x="334.27" y="686.16" width="1.95" height="42.64" fill="#4f95f7"/>
<rect x="336.64" y="689.41" width="1.95" height="39.39" fill="#4f95f7"/>
<rect x="339.01" y="690.52" width="1.95" height="38.28" fill="#4f95f7"/>
<rect x="341.38" y="698.23" width="1.95" height="30.57" fill="#4f95f7"/>
<rect x="343.75" y="698.69" width="1.95" height="30.11" fill="#4f95f7"/>
<rect x="346.12" y="671.78" width="1.95" height="57.02" fill="#4f95f7"/>
<rect x="348.49" y="687.37" width="1.95" height="41.43" fill="#4f95f7"/>
<rect x="350.86" y="662.68" width="1.95" height="66.12" fill="#4f95f7"/>
<rect x="353.23" y="681.99" width="1.95" height="46.81" fill="#4f95f7"/>
<rect x="355.6" y="690.34" width="1.95" height="38.46" fill="#4f95f7"/>
<rect x="357.97" y="705.65" width="1.95" height="23.15" fill="#4f95f7"/>
<rect x="360.34" y="693.12" width="1.95" height="35.68" fill="#ff2e2e"/>
<rect x="362.71" y="677.35" width="1.95" height="51.45" fill="#4f95f7"/>
<rect x="365.08" y="688.02" width="1.95" height="40.78" fill="#4f95f7"/>
<rect x="367.45" y="682.17" width="1.95" height="46.63" fill="#4f95f7"/>
<rect x="369.82" y="693.59" width="1.95" height="35.21" fill="#4f95f7"/>
<rect x="372.19" y="696.84" width="1.95" height="31.96" fill="#ff2e2e"/>
<rect x="374.56" y="694.24" width="1.95" height="34.56" fill="#4f95f7"/>
<rect x="376.93" y="694.79" width="1.95" height="34.01" fill="#4f95f7"/>
<rect x="379.3" y="697.76" width="1.95" height="31.04" fill="#4f95f7"/>
<rect x="381.67" y="674.38" width="1.95" height="54.42" fill="#4f95f7"/>
<rect x="384.04" y="668.53" width="1.95" height="60.27" fill="#4f95f7"/>
<rect x="386.41" y="679.67" width="1.95" height="49.13" fill="#4f95f7"/>
<rect x="388.78" y="667.6" width="1.95" height="61.2" fill="#4f95f7"/>
<rect x="391.15" y="682.17" width="1.95" height="46.63" fill="#4f95f7"/>
<rect x="393.52" y="680.32" width="1.95" height="48.48" fill="#4f95f7"/>
<rect x="395.89" y="674.38" width="1.95" height="54.42" fill="#4f95f7"/>
<rect x="398.26" y="693.12" width="1.95" height="35.68" fill="#4f95f7"/>
<rect x="400.63" y="685.51" width="1.95" height="43.29" fill="#4f95f7"/>
<rect x="403" y="684.58" width="1.95" height="44.22" fill="#ff2e2e"/>
<rect x="405.37" y="693.87" width="1.95" height="34.93" fill="#4f95f7"/>
<rect x="407.74" y="690.15" width="1.95" height="38.65" fill="#4f95f7"/>
<rect x="410.11" y="694.52" width="1.95" height="34.28" fill="#4f95f7"/>
<rect x="412.48" y="699.43" width="1.95" height="29.37" fill="#4f95f7"/>
<rect x="414.85" y="701.29" width="1.95" height="27.51" fill="#4f95f7"/>
<rect x="417.22" y="688.48" width="1.95" height="40.32" fill="#4f95f7"/>
<rect x="419.59" y="676.23" width="1.95" height="52.57" fill="#4f95f7"/>
<rect x="421.96" y="683.66" width="1.95" height="45.14" fill="#4f95f7"/>
<rect x="424.33" y="692.38" width="1.95" height="36.42" fill="#4f95f7"/>
<rect x="426.7" y="687.09" width="1.95" height="41.71" fill="#4f95f7"/>
<rect x="429.07" y="699.62" width="1.95" height="29.18" fill="#4f95f7"/>
<rect x="431.44" y="711.22" width="1.95" height="17.58" fill="#4f95f7"/>
<rect x="433.81" y="692.19" width="1.95" height="36.61" fill="#4f95f7"/>
<rect x="436.18" y="681.52" width="1.95" height="47.28" fill="#4f95f7"/>
<rect x="438.55" y="690.34" width="1.95" height="38.46" fill="#4f95f7"/>
<rect x="440.92" y="683.38" width="1.95" height="45.42" fill="#4f95f7"/>
<rect x="443.29" y="687.09" width="1.95" height="41.71" fill="#4f95f7"/>
<rect x="445.66" y="694.98" width="1.95" height="33.82" fill="#4f95f7"/>
<rect x="448.03" y="690.15" width="1.95" height="38.65" fill="#4f95f7"/>
<rect x="450.4" y="685.23" width="1.95" height="43.57" fill="#4f95f7"/>
<rect x="452.77" y="700.36" width="1.95" height="28.44" fill="#4f95f7"/>
<rect x="455.14" y="693.59" width="1.95" height="35.21" fill="#4f95f7"/>
<rect x="457.51" y="686.16" width="1.95" height="42.64" fill="#4f95f7"/>
<rect x="459.88" y="674.1" width="1.95" height="54.7" fill="#4f95f7"/>
<rect x="462.25" y="664.17" width="1.95" height="64.63" fill="#4f95f7"/>
<rect x="464.62" y="669.74" width="1.95" height="59.06" fill="#4f95f7"/>
<rect x="466.99" y="681.99" width="1.95" height="46.81" fill="#4f95f7"/>
<rect x="469.36" y="690.34" width="1.95" height="38.46" fill="#4f95f7"/>
<rect x="471.73" y="685.88" width="1.95" height="42.92" fill="#4f95f7"/>
<rect x="474.1" y="682.91" width="1.95" height="45.89" fill="#4f95f7"/>
<rect x="476.47" y="693.59" width="1.95" height="35.21" fill="#4f95f7"/>
<rect x="478.84" y="684.58" width="1.95" height="44.22" fill="#4f95f7"/>
<rect x="481.21" y="703.8" width="1.95" height="25" fill="#4f95f7"/>
<rect x="483.58" y="696.37" width="1.95" height="32.43" fill="#4f95f7"/>
<rect x="485.95" y="679.94" width="1.95" height="48.86" fill="#4f95f7"/>
<rect x="488.32" y="688.3" width="1.95" height="40.5" fill="#4f95f7"/>
<rect x="490.69" y="673.63" width="1.95" height="55.17" fill="#4f95f7"/>
<rect x="493.06" y="682.17" width="1.95" height="46.63" fill="#4f95f7"/>
<rect x="495.43" y="669.92" width="1.95" height="58.88" fill="#4f95f7"/>
<rect x="497.8" y="670.66" width="1.95" height="58.14" fill="#4f95f7"/>
<rect x="500.17" y="671.59" width="1.95" height="57.21" fill="#4f95f7"/>
<rect x="502.54" y="664.54" width="1.95" height="64.26" fill="#4f95f7"/>
<rect x="504.91" y="672.52" width="1.95" height="56.28" fill="#4f95f7"/>
<rect x="507.28" y="680.59" width="1.95" height="48.21" fill="#4f95f7"/>
<rect x="509.65" y="680.59" width="1.95" height="48.21" fill="#4f95f7"/>
<rect x="512.02" y="696.09" width="1.95" height="32.71" fill="#4f95f7"/>
<rect x="514.39" y="690.34" width="1.95" height="38.46" fill="#4f95f7"/>
<rect x="516.76" y="687.55" width="1.95" height="41.25" fill="#4f95f7"/>
<rect x="519.13" y="700.36" width="1.95" height="28.44" fill="#4f95f7"/>
<rect x="521.5" y="685.51" width="1.95" height="43.29" fill="#4f95f7"/>
<rect x="523.87" y="699.81" width="1.95" height="28.99" fill="#4f95f7"/>
<rect x="526.24" y="677.53" width="1.95" height="51.27" fill="#4f95f7"/>
<rect x="528.61" y="684.31" width="1.95" height="44.49" fill="#4f95f7"/>
<rect x="530.98" y="688.48" width="1.95" height="40.32" fill="#4f95f7"/>
<rect x="533.35" y="666.95" width="1.95" height="61.85" fill="#4f95f7"/>
<rect x="535.72" y="697.76" width="1.95" height="31.04" fill="#4f95f7"/>
<rect x="538.09" y="696.65" width="1.95" height="32.15" fill="#4f95f7"/>
<rect x="540.46" y="703.15" width="1.95" height="25.65" fill="#4f95f7"/>
<rect x="542.83" y="681.24" width="1.95" height="47.56" fill="#4f95f7"/>
<rect x="545.2" y="690.34" width="1.95" height="38.46" fill="#4f95f7"/>
<rect x="547.57" y="707.23" width="1.95" height="21.57" fill="#4f95f7"/>
<rect x="549.94" y="685.51" width="1.95" height="43.29" fill="#4f95f7"/>
<rect x="552.31" y="698.51" width="1.95" height="30.29" fill="#4f95f7"/>
<rect x="554.68" y="690.34" width="1.95" height="38.46" fill="#4f95f7"/>
<rect x="557.05" y="691.45" width="1.95" height="37.35" fill="#4f95f7"/>
<rect x="559.42" y="689.23" width="1.95" height="39.57" fill="#4f95f7"/>
<rect x="561.79" y="695.16" width="1.95" height="33.64" fill="#4f95f7"/>
<rect x="564.16" y="687.74" width="1.95" height="41.06" fill="#4f95f7"/>
<rect x="566.53" y="698.88" width="1.95" height="29.92" fill="#4f95f7"/>
<rect x="568.9" y="686.16" width="1.95" height="42.64" fill="#4f95f7"/>
<rect x="571.27" y="685.88" width="1.95" height="42.92" fill="#4f95f7"/>
<rect x="573.64" y="683.1" width="1.95" height="45.7" fill="#4f95f7"/>
<rect x="576.01" y="669.46" width="1.95" height="59.34" fill="#4f95f7"/>
<rect x="578.38" y="679.2" width="1.95" height="49.6" fill="#4f95f7"/>
<rect x="580.75" y="672.24" width="1.95" height="56.56" fill="#4f95f7"/>
<rect x="583.12" y="690.8" width="1.95" height="38" fill="#4f95f7"/>
<rect x="585.49" y="696.09" width="1.95" height="32.71" fill="#4f95f7"/>
<rect x="587.86" y="694.24" width="1.95" height="34.56" fill="#4f95f7"/>
<rect x="590.23" y="675.03" width="1.95" height="53.77" fill="#4f95f7"/>
<rect x="592.6" y="687.37" width="1.95" height="41.43" fill="#4f95f7"/>
<rect x="594.97" y="695.44" width="1.95" height="33.36" fill="#4f95f7"/>
<rect x="597.34" y="704.07" width="1.95" height="24.73" fill="#4f95f7"/>
<rect x="599.71" y="689.23" width="1.95" height="39.57" fill="#4f95f7"/>
<rect x="602.08" y="690.8" width="1.95" height="38" fill="#4f95f7"/>
<rect x="604.45" y="686.16" width="1.95" height="42.64" fill="#4f95f7"/>
<rect x="606.82" y="695.16" width="1.95" height="33.64" fill="#4f95f7"/>
<rect x="609.19" y="665.28" width="1.95" height="63.52" fill="#4f95f7"/>
<rect x="611.56" y="669.46" width="1.95" height="59.34" fill="#4f95f7"/>
<rect x="613.93" y="684.31" width="1.95" height="44.49" fill="#4f95f7"/>
<rect x="616.3" y="661.75" width="1.95" height="67.05" fill="#4f95f7"/>
<rect x="618.67" y="677.16" width="1.95" height="51.64" fill="#4f95f7"/>
<rect x="621.04" y="671.31" width="1.95" height="57.49" fill="#4f95f7"/>
<rect x="623.41" y="679.02" width="1.95" height="49.78" fill="#4f95f7"/>
<rect x="625.78" y="690.8" width="1.95" height="38" fill="#4f95f7"/>
<rect x="628.15" y="689.23" width="1.95" height="39.57" fill="#4f95f7"/>
<rect x="630.52" y="698.23" width="1.95" height="30.57" fill="#4f95f7"/>
<rect x="632.89" y="689.6" width="1.95" height="39.2" fill="#4f95f7"/>
<rect x="635.26" y="691.27" width="1.95" height="37.53" fill="#4f95f7"/>
<rect x="637.63" y="695.16" width="1.95" height="33.64" fill="#ff2e2e"/>
<rect x="640" y="677.16" width="1.95" height="51.64" fill="#4f95f7"/>
<rect x="642.37" y="698.69" width="1.95" height="30.11" fill="#4f95f7"/>
<rect x="644.74" y="686.16" width="1.95" height="42.64" fill="#4f95f7"/>
<rect x="647.11" y="687.09" width="1.95" height="41.71" fill="#4f95f7"/>
<rect x="649.48" y="674.1" width="1.95" height="54.7" fill="#4f95f7"/>
<rect x="651.85" y="701.66" width="1.95" height="27.14" fill="#ff2e2e"/>
<rect x="654.22" y="681.06" width="1.95" height="47.74" fill="#4f95f7"/>
<rect x="656.59" y="685.23" width="1.95" height="43.57" fill="#4f95f7"/>
<rect x="658.96" y="683.66" width="1.95" height="45.14" fill="#4f95f7"/>
<rect x="661.33" y="688.3" width="1.95" height="40.5" fill="#4f95f7"/>
<rect x="663.7" y="682.17" width="1.95" height="46.63" fill="#4f95f7"/>
<rect x="666.07" y="703.33" width="1.95" height="25.47" fill="#4f95f7"/>
<rect x="668.44" y="700.36" width="1.95" height="28.44" fill="#4f95f7"/>
<rect x="670.81" y="688.3" width="1.95" height="40.5" fill="#4f95f7"/>
<rect x="673.18" y="699.16" width="1.95" height="29.64" fill="#4f95f7"/>
<rect x="675.55" y="708.16" width="1.95" height="20.64" fill="#4f95f7"/>
<rect x="677.92" y="689.6" width="1.95" height="39.2" fill="#4f95f7"/>
<rect x="680.29" y="691.27" width="1.95" height="37.53" fill="#4f95f7"/>
<rect x="682.66" y="691.08" width="1.95" height="37.72" fill="#4f95f7"/>
<rect x="685.03" y="708.71" width="1.95" height="20.09" fill="#4f95f7"/>
<rect x="687.4" y="693.12" width="1.95" height="35.68" fill="#4f95f7"/>
<rect x="689.77" y="693.12" width="1.95" height="35.68" fill="#4f95f7"/>
<rect x="692.14" y="689.37" width="1.95" height="39.43" fill="#4f95f7"/>
<rect x="694.51" y="699.61" width="1.95" height="29.19" fill="#4f95f7"/>
<rect x="696.88" y="687.42" width="1.95" height="41.38" fill="#4f95f7"/>
<rect x="699.25" y="692.96" width="1.95" height="35.84" fill="#4f95f7"/>
<rect x="701.62" y="688.72" width="1.95" height="40.08" fill="#4f95f7"/>
<rect x="703.99" y="690.03" width="1.95" height="38.77" fill="#4f95f7"/>
<rect x="706.36" y="696.22" width="1.95" height="32.58" fill="#4f95f7"/>
<rect x="708.73" y="677.74" width="1.95" height="51.06" fill="#4f95f7"/>
<rect x="711.1" y="688.72" width="1.95" height="40.08" fill="#4f95f7"/>
<rect x="713.47" y="699.61" width="1.95" height="29.19" fill="#4f95f7"/>
<rect x="715.84" y="679.97" width="1.95" height="48.83" fill="#4f95f7"/>
<rect x="718.21" y="685.6" width="1.95" height="43.2" fill="#4f95f7"/>
<rect x="720.58" y="684.3" width="1.95" height="44.5" fill="#4f95f7"/>
<rect x="722.95" y="670.38" width="1.95" height="58.42" fill="#4f95f7"/>
<rect x="725.32" y="682.86" width="1.95" height="45.94" fill="#4f95f7"/>
<rect x="727.69" y="667.78" width="1.95" height="61.02" fill="#ff2e2e"/>
<rect x="730.06" y="665.68" width="1.95" height="63.12" fill="#4f95f7"/>
<rect x="732.43" y="678.99" width="1.95" height="49.81" fill="#4f95f7"/>
<rect x="734.8" y="683.42" width="1.95" height="45.38" fill="#4f95f7"/>
<rect x="737.17" y="668.89" width="1.95" height="59.91" fill="#4f95f7"/>
<rect x="739.54" y="697.38" width="1.95" height="31.42" fill="#4f95f7"/>
<rect x="741.91" y="695.24" width="1.95" height="33.56" fill="#ff2e2e"/>
<rect x="744.28" y="686.58" width="1.95" height="42.22" fill="#4f95f7"/>
<rect x="746.65" y="699.01" width="1.95" height="29.79" fill="#4f95f7"/>
<rect x="749.02" y="684.81" width="1.95" height="43.99" fill="#4f95f7"/>
<rect x="751.39" y="693.61" width="1.95" height="35.19" fill="#4f95f7"/>
<rect x="753.76" y="699.01" width="1.95" height="29.79" fill="#4f95f7"/>
<rect x="756.13" y="690.68" width="1.95" height="38.12" fill="#4f95f7"/>
<rect x="758.5" y="689.37" width="1.95" height="39.43" fill="#4f95f7"/>
<rect x="760.87" y="687.42" width="1.95" height="41.38" fill="#4f95f7"/>
<rect x="763.24" y="682.86" width="1.95" height="45.94" fill="#4f95f7"/>
<rect x="765.61" y="695.75" width="1.95" height="33.05" fill="#4f95f7"/>
<rect x="767.98" y="697.85" width="1.95" height="30.95" fill="#ff2e2e"/>
<rect x="770.35" y="693.14" width="1.95" height="35.66" fill="#4f95f7"/>
<rect x="772.72" y="675.18" width="1.95" height="53.62" fill="#4f95f7"/>
<rect x="90" y="659" width="597.7" height="70" fill="rgba(16,30,62,0.46)"/>
<rect x="687.7" y="659" width="9.5" height="70" fill="#3a465c"/>
<rect x="692" y="668.3" width="1.2" height="51" fill="#c9cdd5"/>
<rect x="784" y="659" width="9" height="70" fill="#5d6a7f"/>
<rect x="788" y="668.3" width="1.2" height="51" fill="#c9cdd5"/>
<line x1="697" y1="729.5" x2="784" y2="729.5" stroke="#e6e8ef" stroke-width="1"/>
<text x="209.75" y="751.6" text-anchor="start" font-size="12" fill="#6b778c" font-weight="normal" textLength="46.7" lengthAdjust="spacingAndGlyphs" >8:33 PM</text>
<text x="214.15" y="765.8" text-anchor="start" font-size="12" fill="#6b778c" font-weight="normal" textLength="37.9" lengthAdjust="spacingAndGlyphs" >18 Aug</text>
<text x="367.55" y="751.6" text-anchor="start" font-size="12" fill="#6b778c" font-weight="normal" textLength="46.7" lengthAdjust="spacingAndGlyphs" >2:06 AM</text>
<text x="371.95" y="765.8" text-anchor="start" font-size="12" fill="#6b778c" font-weight="normal" textLength="37.9" lengthAdjust="spacingAndGlyphs" >19 Aug</text>
<text x="525.25" y="751.6" text-anchor="start" font-size="12" fill="#6b778c" font-weight="normal" textLength="46.7" lengthAdjust="spacingAndGlyphs" >7:40 AM</text>
<text x="529.65" y="765.8" text-anchor="start" font-size="12" fill="#6b778c" font-weight="normal" textLength="37.9" lengthAdjust="spacingAndGlyphs" >19 Aug</text>
<text x="685.05" y="751.6" text-anchor="start" font-size="12" fill="#6b778c" font-weight="normal" textLength="42.7" lengthAdjust="spacingAndGlyphs" >1:13 PM</text>
<text x="687.45" y="765.8" text-anchor="start" font-size="12" fill="#6b778c" font-weight="normal" textLength="37.9" lengthAdjust="spacingAndGlyphs" >19 Aug</text>
<line x1="233.5" y1="729" x2="233.5" y2="734" stroke="#e6e8ef" stroke-width="1"/>
<line x1="390.5" y1="729" x2="390.5" y2="734" stroke="#e6e8ef" stroke-width="1"/>
<line x1="548.5" y1="729" x2="548.5" y2="734" stroke="#e6e8ef" stroke-width="1"/>
<line x1="706.5" y1="729" x2="706.5" y2="734" stroke="#e6e8ef" stroke-width="1"/>
</svg>
<div class="L" style="z-index:3">
<div style="position:absolute;left:40px;top:143px;width:10px;height:10px;background:#4f95f7;border-radius:1px"></div>
<div style="position:absolute;left:1119px;top:176px;width:7px;height:607px;background:#f4f5f8;border-radius:0 0 3px 3px"></div>
<div style="position:absolute;left:1119px;top:176px;width:7px;height:331px;background:#e1e5ee;border-radius:3px"></div>
<div class="gbox" style="top:269.5px;height:21.3px"></div>
<div style="position:absolute;left:850.5px;top:349.8px;width:248.5px;height:57px;border:1px solid #4b8ff2;border-radius:5px;background:#f5f6f8;box-shadow:0 3px 8px rgba(30,40,60,0.10)"></div>
<div style="position:absolute;left:828.5px;top:351.2px;width:17.5px;height:17.5px;border:1px solid #e1e5ec;border-radius:3px;background:#fff"></div>
<div style="position:absolute;left:832.3px;top:355px;width:3.4px;height:10.5px;background:#4f95f7;border-radius:1.5px 1.5px 0 0"></div>
<div style="position:absolute;left:838px;top:358.6px;width:4px;height:6.9px;background:#8b95a5;border-radius:1.5px 1.5px 0 0"></div>
<div class="gbox" style="top:437px"></div>
<div class="gbox" style="top:498.22px"></div>
<div class="gbox" style="top:559.44px"></div>
<div class="gbox" style="top:620.66px"></div>
<div class="gbox" style="top:681.88px"></div>
<div class="gbox" style="top:743.1px"></div>

</div>
<svg width="1145" height="808" style="z-index:4">
<text x="58.8" y="152.7" font-size="12" fill="#5f6b7d" font-weight="normal" textLength="74.1" lengthAdjust="spacingAndGlyphs">Request Rate</text>
<text x="827.3" y="189.1" font-size="12" fill="#9aa5b4" font-weight="normal" textLength="117.2" lengthAdjust="spacingAndGlyphs">Trend for Last 60min</text>
<text x="827.6" y="225" font-size="12" fill="#66758a" font-weight="bold" textLength="44.8" lengthAdjust="spacingAndGlyphs">Percent</text>
<text x="827.3" y="331" font-size="12" fill="#66758a" font-weight="bold" textLength="26" lengthAdjust="spacingAndGlyphs">Rate</text>
<text x="860.6" y="262.6" font-size="12" fill="#1b2a55" font-weight="normal" textLength="36" lengthAdjust="spacingAndGlyphs">Health</text>
<text x="1041.7" y="262.6" font-size="12" fill="#1b2a55" font-weight="normal" textLength="48" lengthAdjust="spacingAndGlyphs">100 /100</text>
<text x="860.6" y="369.9" font-size="12" fill="#15203e" font-weight="bold" textLength="77" lengthAdjust="spacingAndGlyphs">Request Rate</text>
<text x="1062.7" y="369.9" font-size="12" fill="#15203e" font-weight="bold" textLength="27" lengthAdjust="spacingAndGlyphs">66/s</text>
<text x="860.4" y="430.7" font-size="12" fill="#1b2a55" font-weight="normal" textLength="56.1" lengthAdjust="spacingAndGlyphs">Error Rate</text>
<text x="1054.4" y="430.7" font-size="12" fill="#1b2a55" font-weight="normal" textLength="35.1" lengthAdjust="spacingAndGlyphs">0.59/s</text>
<text x="860.4" y="491.92" font-size="12" fill="#1b2a55" font-weight="normal" textLength="79.9" lengthAdjust="spacingAndGlyphs">Error Rate 4xx</text>
<text x="1054.4" y="491.92" font-size="12" fill="#1b2a55" font-weight="normal" textLength="35.1" lengthAdjust="spacingAndGlyphs">0.59/s</text>
<text x="860.4" y="553.14" font-size="12" fill="#1b2a55" font-weight="normal" textLength="79.9" lengthAdjust="spacingAndGlyphs">Error Rate 5xx</text>
<text x="1072.5" y="553.14" font-size="12" fill="#1b2a55" font-weight="normal" textLength="17" lengthAdjust="spacingAndGlyphs">0/s</text>
<text x="860.4" y="614.36" font-size="12" fill="#1b2a55" font-weight="normal" textLength="92.3" lengthAdjust="spacingAndGlyphs">Error Rate Client</text>
<text x="1072.5" y="614.36" font-size="12" fill="#1b2a55" font-weight="normal" textLength="17" lengthAdjust="spacingAndGlyphs">0/s</text>
<text x="860.4" y="675.58" font-size="12" fill="#1b2a55" font-weight="normal" textLength="114.8" lengthAdjust="spacingAndGlyphs">Error Rate Upstream</text>
<text x="1072.5" y="675.58" font-size="12" fill="#1b2a55" font-weight="normal" textLength="17" lengthAdjust="spacingAndGlyphs">0/s</text>
<text x="860.4" y="736.8" font-size="12" fill="#1b2a55" font-weight="normal" textLength="56.2" lengthAdjust="spacingAndGlyphs">Drop Rate</text>
<text x="1048.5" y="736.8" font-size="12" fill="#1b2a55" font-weight="normal" textLength="41" lengthAdjust="spacingAndGlyphs">4442/s</text>
<line x1="862" y1="270.9" x2="1088" y2="270.9" stroke="#7b879b" stroke-width="1.6"/>
<path d="M862.3,380.9 C900,381.6 920,382.7 945,382.7 C980,382.5 1020,381.9 1050,381.4 C1065,381.1 1075,379.6 1087.7,377.3" fill="none" stroke="#4b8ff2" stroke-width="1.9"/>
<path d="M862.3,450.4 C875,453.6 885,456.9 897,456.9 L1016.4,456.9 C1025,456.9 1035,451.5 1050,447 C1062,443.5 1075,440.5 1087.7,438.7" fill="none" stroke="#7b879b" stroke-width="1.6"/>
<path d="M862.3,511.62 C875,514.82 885,518.12 897,518.12 L1016.4,518.12 C1025,518.12 1035,512.72 1050,508.22 C1062,504.72 1075,501.72 1087.7,499.92" fill="none" stroke="#7b879b" stroke-width="1.6"/>
<line x1="862" y1="579.64" x2="1088" y2="579.64" stroke="#7b879b" stroke-width="1.6"/>
<path d="M862,745.4 L1088,745.2" fill="none" stroke="#7b879b" stroke-width="1.6"/>
<path d="M1145,803.5 L1145,808 L1140.5,808 Q1144,807 1145,803.5 Z" fill="#111"/>
</svg>
</body></html>
